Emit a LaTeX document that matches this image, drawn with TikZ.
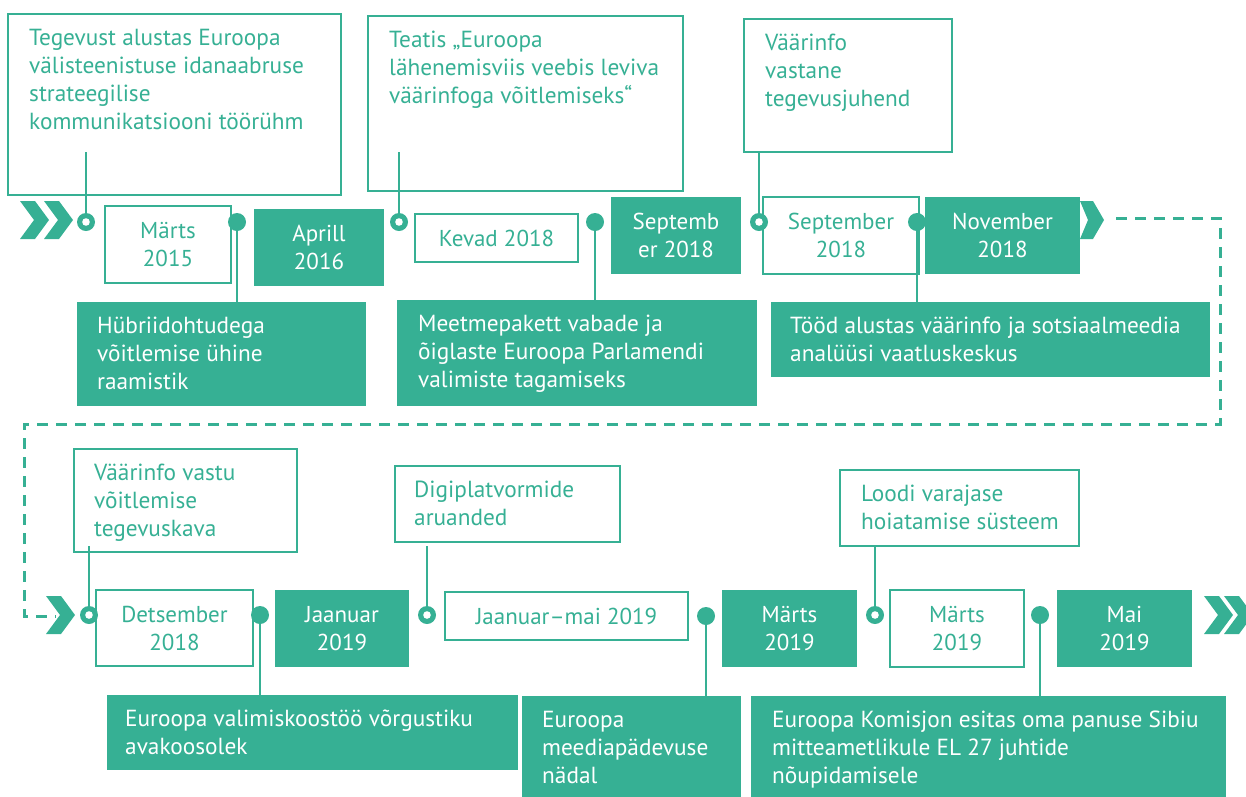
\documentclass[tikz,border=0pt]{standalone}
\usepackage{fontspec}
\setmainfont{PT Sans}
\usetikzlibrary{calc}
\definecolor{tl}{RGB}{54,176,148}
\pgfdeclarelayer{bg}
\pgfsetlayers{bg,main}
\begin{document}
\begin{tikzpicture}[x=1pt,y=-1pt,
  obox/.style={draw=tl, line width=2pt, anchor=north west, inner sep=0pt, outer sep=0pt},
  fbox/.style={fill=tl, anchor=north west, inner sep=0pt, outer sep=0pt},
  dtxt/.style={font=\fontsize{23}{28}\selectfont, align=center},
  desc/.style={anchor=north west, inner sep=0pt, align=left, font=\fontsize{23.3}{28}\selectfont},
  conn/.style={draw=tl, line width=2pt},
  dashln/.style={draw=tl, line width=3pt, dash pattern=on 11pt off 8pt},
  hcirc/.style={circle, fill=tl, minimum size=18pt, inner sep=0pt,
    path picture={\fill[white] (path picture bounding box.center) circle[radius=3.8pt];}},
  fcirc/.style={circle, fill=tl, minimum size=18pt, inner sep=0pt},
  chev/.pic={\fill[tl] (0,-19) -- (15,-19) -- (29,0) -- (15,19) -- (0,19) -- (14,0) -- cycle;}
]
\useasboundingbox (0,0) rectangle (1246,796);

% ---------- top row: upper description boxes ----------
\node[obox, minimum width=333, minimum height=181] (A) at (8,14) {};
\node[desc, text=tl] (At) at ($(A.north west)+(21,12)$) {\strut Tegevust alustas Euroopa\\välisteenistuse idanaabruse\\strateegilise\\kommunikatsiooni töörühm};
\node[obox, minimum width=315, minimum height=175] (B) at (368,16) {};
\node[desc, text=tl] (Bt) at ($(B.north west)+(21,12)$) {\strut Teatis „Euroopa\\lähenemisviis veebis leviva\\väärinfoga võitlemiseks“};
\node[obox, minimum width=208, minimum height=133] (C) at (744,19) {};
\node[desc, text=tl] (Ct) at ($(C.north west)+(21,12)$) {\strut Väärinfo\\vastane\\tegevusjuhend};

% ---------- top row: dates ----------
\node[obox, dtxt, text=tl, minimum width=126, minimum height=77] (D1) at (105,206) {Märts\\2015};
\node[fbox, dtxt, text=white, minimum width=130, minimum height=77] (D2) at (254,209) {Aprill\\2016};
\node[obox, dtxt, text=tl, minimum width=163, minimum height=48] (D3) at (415,214) {Kevad 2018};
\node[fbox, dtxt, text=white, minimum width=130, minimum height=77] (D4) at (611,197) {Septemb\\er 2018};
\node[obox, dtxt, text=tl, minimum width=156, minimum height=77] (D5) at (763,197) {September\\2018};
\node[fbox, dtxt, text=white, minimum width=155, minimum height=77] (D6) at (925,197) {November\\2018};

% ---------- top row: lower description boxes ----------
\node[fbox, minimum width=289, minimum height=104] (E) at (77,302) {};
\node[desc, text=white] (Et) at ($(E.north west)+(20,12)$) {\strut Hübriidohtudega\\võitlemise ühine\\raamistik};
\node[fbox, minimum width=360, minimum height=106] (F) at (397,300) {};
\node[desc, text=white] (Ft) at ($(F.north west)+(21,12)$) {\strut Meetmepakett vabade ja\\õiglaste Euroopa Parlamendi\\valimiste tagamiseks};
\node[fbox, minimum width=439, minimum height=75] (G) at (771,302) {};
\node[desc, text=white] (Gt) at ($(G.north west)+(19,12)$) {\strut Tööd alustas väärinfo ja sotsiaalmeedia\\analüüsi vaatluskeskus};

% ---------- bottom row: upper description boxes ----------
\node[obox, minimum width=223, minimum height=103] (H) at (74,449) {};
\node[desc, text=tl] (Ht) at ($(H.north west)+(20,12)$) {\strut Väärinfo vastu\\võitlemise\\tegevuskava};
\node[obox, minimum width=225, minimum height=76] (I) at (395,466) {};
\node[desc, text=tl] (It) at ($(I.north west)+(19,12)$) {\strut Digiplatvormide\\aruanded};
\node[obox, minimum width=239, minimum height=76] (J) at (840,470) {};
\node[desc, text=tl] (Jt) at ($(J.north west)+(21,12)$) {\strut Loodi varajase\\hoiatamise süsteem};

% ---------- bottom row: dates ----------
\node[obox, dtxt, text=tl, minimum width=157, minimum height=76] (D7) at (96,590) {Detsember\\2018};
\node[fbox, dtxt, text=white, minimum width=134, minimum height=77] (D8) at (275,590) {Jaanuar\\2019};
\node[obox, dtxt, text=tl, minimum width=243, minimum height=48] (D9) at (445,592) {Jaanuar–mai 2019};
\node[fbox, dtxt, text=white, minimum width=135, minimum height=77] (D10) at (722,590) {Märts\\2019};
\node[obox, dtxt, text=tl, minimum width=134, minimum height=77] (D11) at (890,590) {Märts\\2019};
\node[fbox, dtxt, text=white, minimum width=135, minimum height=77] (D12) at (1057,590) {Mai\\2019};

% ---------- bottom row: lower description boxes ----------
\node[fbox, minimum width=411, minimum height=75] (K) at (107,695) {};
\node[desc, text=white] (Kt) at ($(K.north west)+(18,12)$) {\strut Euroopa valimiskoostöö võrgustiku\\avakoosolek};
\node[fbox, minimum width=219, minimum height=101] (L) at (522,696) {};
\node[desc, text=white] (Lt) at ($(L.north west)+(20,12)$) {\strut Euroopa\\meediapädevuse\\nädal};
\node[fbox, minimum width=475, minimum height=101] (M) at (751,696) {};
\node[desc, text=white] (Mt) at ($(M.north west)+(21,12)$) {\strut Euroopa Komisjon esitas oma panuse Sibiu\\mitteametlikule EL 27 juhtide\\nõupidamisele};

% ---------- chevrons ----------
\pic at (20,220) {chev};
\pic at (44,220) {chev};
\pic at (46,615) {chev};
\pic at (1204,615) {chev};
\pic at (1224,615) {chev};
\fill[tl] (1080,201) -- (1093,201) -- (1104,220) -- (1093,239) -- (1080,239) -- (1088,220) -- cycle;

% ---------- circles ----------
\node[hcirc] (c1) at (86,222) {};
\node[fcirc] (c2) at (237,222) {};
\node[hcirc] (c3) at (399,222) {};
\node[fcirc] (c4) at (595,222) {};
\node[hcirc] (c5) at (759,222) {};
\node[fcirc] (c6) at (917,222) {};
\node[hcirc] (c7) at (89,615) {};
\node[fcirc] (c8) at (260,615) {};
\node[hcirc] (c9) at (427,615) {};
\node[fcirc] (c10) at (706,616) {};
\node[hcirc] (c11) at (875,615) {};
\node[fcirc] (c12) at (1040,615) {};

% ---------- connector end points ----------
\coordinate (a1) at (86,152);
\coordinate (b1) at (399,152);
\coordinate (h1) at (89,546);
\coordinate (i1) at (427,546);
\coordinate (d0) at (1116,218);
\coordinate (d1) at (1220,218);
\coordinate (d2) at (1220,424);
\coordinate (d3) at (24,424);
\coordinate (d4) at (24,616);
\coordinate (d5) at (56,616);

\begin{pgfonlayer}{bg}
  \draw[conn] (a1) -- (c1.center);
  \draw[conn] (c2.center) -- (c2 |- E.north);
  \draw[conn] (b1) -- (c3.center);
  \draw[conn] (c4.center) -- (c4 |- F.north);
  \draw[conn] (c5 |- C.south) -- (c5.center);
  \draw[conn] (c6.center) -- (c6 |- G.north);
  \draw[conn] (h1) -- (c7.center);
  \draw[conn] (c8.center) -- (c8 |- K.north);
  \draw[conn] (i1) -- (c9.center);
  \draw[conn] (c10.center) -- (c10 |- L.north);
  \draw[conn] (c11 |- J.south) -- (c11.center);
  \draw[conn] (c12.center) -- (c12 |- M.north);
  \draw[dashln] (d0) -- (d1) -- (d2) -- (d3) -- (d4) -- (d5);
\end{pgfonlayer}
\end{tikzpicture}
\end{document}
